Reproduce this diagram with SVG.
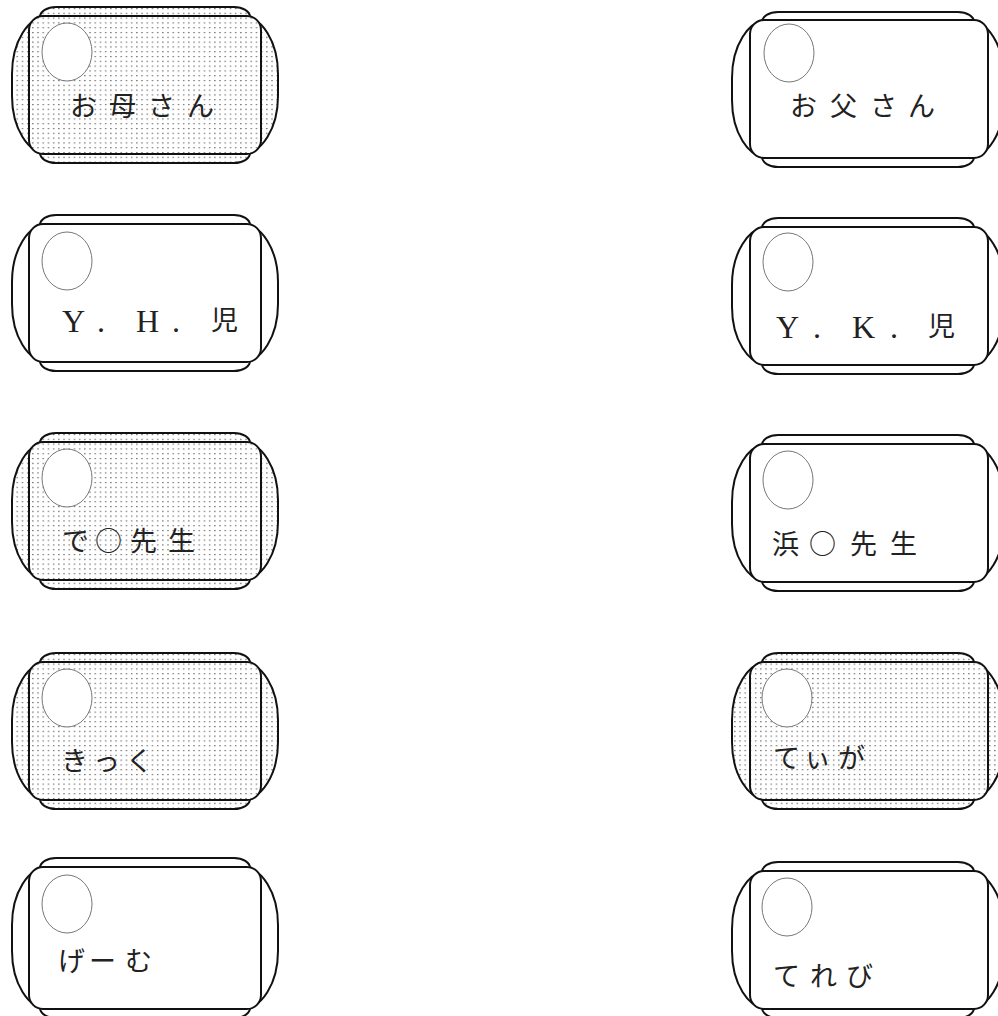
<svg xmlns="http://www.w3.org/2000/svg" width="998" height="1016" viewBox="0 0 998 1016">
  <defs>
    <pattern id="dots" patternUnits="userSpaceOnUse" width="5.2" height="4.8">
      <rect width="5.2" height="4.8" fill="#ffffff"/>
      <rect x="1" y="1" width="1.3" height="1.1" fill="#555"/>
    </pattern>
  </defs>
  <style>
    .sh { stroke: #111; stroke-width: 2; fill: #fff; }
    .dot .sh { fill: url(#dots); }
    .hole { fill: #fff; stroke: #777; stroke-width: 1; }
    .jp { font-family: "Noto Sans CJK JP", sans-serif; font-size: 27px; fill: #222; }
    .lat { font-family: "Liberation Serif", "Noto Sans CJK JP", serif; font-size: 32px; fill: #222; }
  </style>

  <!-- Left column -->
  <g id="card-mother" class="dot" transform="translate(0,7)">
    <rect class="sh" x="12" y="9" width="266" height="138" rx="36" ry="58"/>
    <rect class="sh" x="40" y="0" width="210" height="156" rx="16" ry="10"/>
    <rect class="sh" x="29" y="9" width="232" height="138" rx="14" ry="14"/>
    <ellipse class="hole" cx="67" cy="45" rx="25" ry="29"/>
    <text class="jp" x="70 109 148 187" y="109">お母さん</text>
  </g>

  <g id="card-yh" transform="translate(0,215)">
    <rect class="sh" x="12" y="9" width="266" height="138" rx="36" ry="58"/>
    <rect class="sh" x="40" y="0" width="210" height="156" rx="16" ry="10"/>
    <rect class="sh" x="29" y="9" width="232" height="138" rx="14" ry="14"/>
    <ellipse class="hole" cx="67" cy="46" rx="25" ry="29"/>
    <text class="lat" x="62 97 136 172" y="117">Y.H.</text>
    <text class="jp" x="211" y="115">児</text>
  </g>

  <g id="card-teacher-de" class="dot" transform="translate(0,433)">
    <rect class="sh" x="12" y="9" width="266" height="138" rx="36" ry="58"/>
    <rect class="sh" x="40" y="0" width="210" height="156" rx="16" ry="10"/>
    <rect class="sh" x="29" y="9" width="232" height="138" rx="14" ry="14"/>
    <ellipse class="hole" cx="67" cy="45" rx="25" ry="29"/>
    <text class="jp" x="62 95 130 168" y="118">で○先生</text>
  </g>

  <g id="card-kick" class="dot" transform="translate(0,653)">
    <rect class="sh" x="12" y="9" width="266" height="138" rx="36" ry="58"/>
    <rect class="sh" x="40" y="0" width="210" height="156" rx="16" ry="10"/>
    <rect class="sh" x="29" y="9" width="232" height="138" rx="14" ry="14"/>
    <ellipse class="hole" cx="67" cy="45" rx="25" ry="29"/>
    <text class="jp" x="61 93 126" y="118">きっく</text>
  </g>

  <g id="card-game" transform="translate(0,858)">
    <rect class="sh" x="12" y="9" width="266" height="142" rx="36" ry="58"/>
    <rect class="sh" x="40" y="0" width="210" height="160" rx="16" ry="10"/>
    <rect class="sh" x="29" y="9" width="232" height="142" rx="14" ry="14"/>
    <ellipse class="hole" cx="67" cy="46" rx="25" ry="29"/>
    <text class="jp" x="58 89 125" y="113">げーむ</text>
  </g>

  <!-- Right column -->
  <g id="card-father" transform="translate(0,12)">
    <rect class="sh" x="732" y="8" width="272" height="138" rx="36" ry="58"/>
    <rect class="sh" x="762" y="0" width="212" height="155" rx="16" ry="10"/>
    <rect class="sh" x="750" y="8" width="238" height="138" rx="14" ry="14"/>
    <ellipse class="hole" cx="789" cy="41" rx="25" ry="29"/>
    <text class="jp" x="790 830 870 908" y="104">お父さん</text>
  </g>

  <g id="card-yk" transform="translate(0,218)">
    <rect class="sh" x="732" y="9" width="272" height="138" rx="36" ry="58"/>
    <rect class="sh" x="762" y="0" width="212" height="156" rx="16" ry="10"/>
    <rect class="sh" x="750" y="9" width="238" height="138" rx="14" ry="14"/>
    <ellipse class="hole" cx="788" cy="44" rx="25" ry="29"/>
    <text class="lat" x="776 813 852 890" y="120">Y.K.</text>
    <text class="jp" x="928" y="118">児</text>
  </g>

  <g id="card-teacher-hama" transform="translate(0,435)">
    <rect class="sh" x="732" y="9" width="272" height="138" rx="36" ry="58"/>
    <rect class="sh" x="762" y="0" width="212" height="156" rx="16" ry="10"/>
    <rect class="sh" x="750" y="9" width="238" height="138" rx="14" ry="14"/>
    <ellipse class="hole" cx="788" cy="45" rx="25" ry="29"/>
    <text class="jp" x="772 809 850 890" y="119">浜○先生</text>
  </g>

  <g id="card-movie" class="dot" transform="translate(0,653)">
    <rect class="sh" x="732" y="9" width="272" height="138" rx="36" ry="58"/>
    <rect class="sh" x="762" y="0" width="212" height="156" rx="16" ry="10"/>
    <rect class="sh" x="750" y="9" width="238" height="138" rx="14" ry="14"/>
    <ellipse class="hole" cx="787" cy="45" rx="25" ry="29"/>
    <text class="jp" x="773 804 838" y="115">てぃが</text>
  </g>

  <g id="card-tv" transform="translate(0,862)">
    <rect class="sh" x="732" y="9" width="272" height="138" rx="36" ry="58"/>
    <rect class="sh" x="762" y="0" width="212" height="156" rx="16" ry="10"/>
    <rect class="sh" x="750" y="9" width="238" height="138" rx="14" ry="14"/>
    <ellipse class="hole" cx="787" cy="45" rx="25" ry="29"/>
    <text class="jp" x="773 810 846" y="124">てれび</text>
  </g>

  <g id="connectors"></g>
</svg>
